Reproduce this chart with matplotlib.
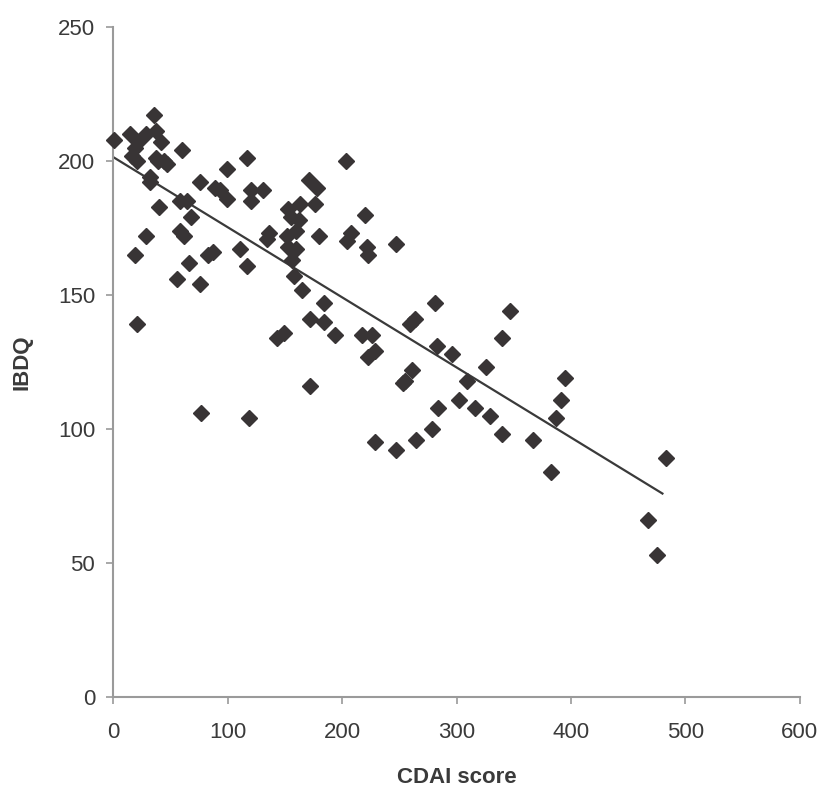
import numpy as np
import matplotlib
matplotlib.use("Agg")
import matplotlib.pyplot as plt

plt.rcParams['font.family'] = ['Liberation Sans', 'DejaVu Sans']

# CDAI score (x) and IBDQ (y)
cdai = [1, 15, 36, 29, 37, 42, 19, 22, 16, 21, 37, 44, 47, 39, 60, 32, 32, 40, 58, 64,
        76, 68, 58, 62, 29, 19, 66, 56, 76, 83, 87, 21, 99, 117, 89, 93, 99, 120, 131, 120,
        111, 117, 136, 134, 77, 119, 143, 149,
        153, 163, 155, 162, 171, 178, 176, 180, 152, 160, 153, 160, 156, 158, 165,
        203, 204, 208, 220, 222, 223, 247, 184, 172, 184, 172, 194, 217, 226, 223, 229,
        281, 259, 264, 283, 296, 261, 253, 255, 309, 302, 284, 316, 279, 265, 229, 247,
        347, 340, 326, 329, 340, 367, 383, 395, 391, 387, 483, 467, 475]
ibdq = [208, 210, 217, 210, 211, 207, 205, 207, 202, 200, 201, 200, 199, 200, 204, 194, 192, 183, 185, 185,
        192, 179, 174, 172, 172, 165, 162, 156, 154, 165, 166, 139, 197, 201, 190, 189, 186, 189, 189, 185,
        167, 161, 173, 171, 106, 104, 134, 136,
        182, 184, 179, 178, 193, 190, 184, 172, 172, 174, 168, 167, 163, 157, 152,
        200, 170, 173, 180, 168, 165, 169, 147, 141, 140, 116, 135, 135, 135, 127, 129,
        147, 139, 141, 131, 128, 122, 117, 118, 118, 111, 108, 108, 100, 96, 95, 92,
        144, 134, 123, 105, 98, 96, 84, 119, 111, 104, 89, 66, 53]

x_ticks = [0, 100, 200, 300, 400, 500, 600]
y_ticks = [0, 50, 100, 150, 200, 250]

fig = plt.figure(figsize=(8.27, 7.93), dpi=100)
ax = fig.add_axes([0.137, 0.121, 0.830, 0.845])

x = np.array(cdai, dtype=float)
y = np.array(ibdq, dtype=float)
slope, intercept = np.polyfit(x, y, 1)
xl = np.array([0, 480])
ax.plot(xl, intercept + slope * xl, color='#3a3a3a', lw=1.6, zorder=2)

ax.plot(x, y, linestyle='none', marker='D', markersize=8.5,
        color='#383435', markeredgecolor='#383435', zorder=3, clip_on=False)

ax.set_xlim(0, 600)
ax.set_ylim(0, 250)
ax.set_xticks(x_ticks)
ax.set_yticks(y_ticks)
for s in ['top', 'right']:
    ax.spines[s].set_visible(False)
for s in ['left', 'bottom']:
    ax.spines[s].set_color('#9a9a9a')
    ax.spines[s].set_linewidth(1.5)
ax.tick_params(axis='both', direction='out', length=5, width=1.2, color='#9a9a9a',
               labelsize=16, labelcolor='#3a3a3a')
ax.tick_params(axis='x', pad=13)
ax.tick_params(axis='y', pad=8)
ax.set_xlabel('CDAI score', fontsize=16, fontweight='bold', color='#3a3a3a', labelpad=17)
ax.set_ylabel('IBDQ', fontsize=16, fontweight='bold', color='#3a3a3a', labelpad=18)

fig.savefig('out.png', dpi=100)
